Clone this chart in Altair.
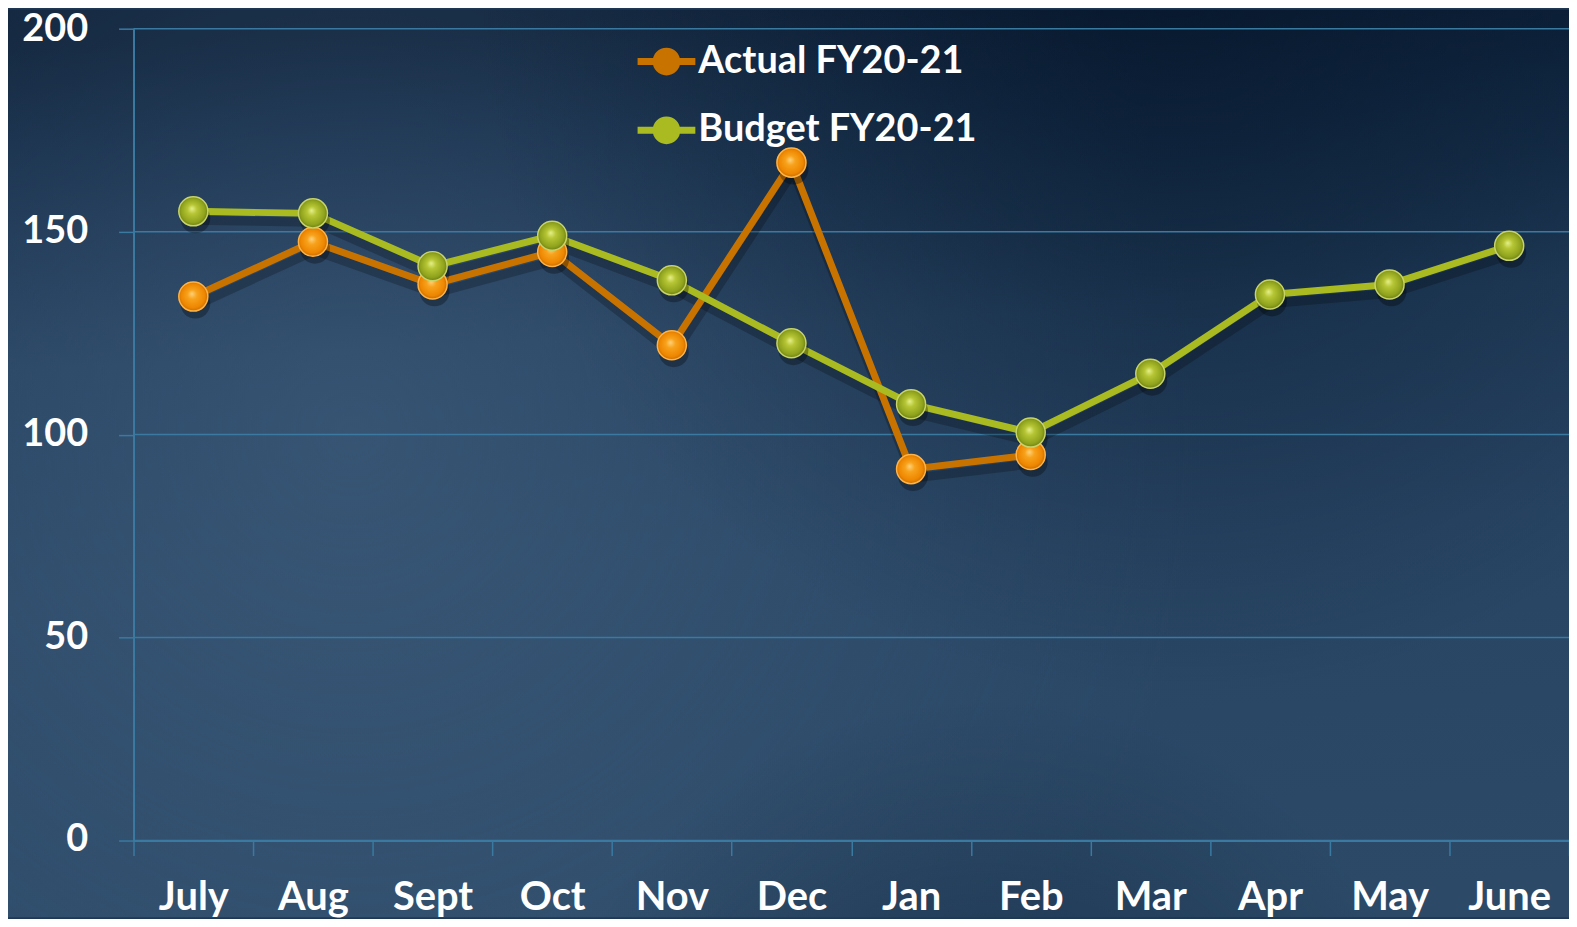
import altair as alt
import pandas as pd

# ---- data ----
months = ["July", "Aug", "Sept", "Oct", "Nov", "Dec", "Jan", "Feb", "Mar", "Apr", "May", "June"]
actual = [134, 147.5, 137, 145, 122, 167, 91.5, 95]
budget = [155, 154.5, 141.5, 149, 138, 122.5, 107.5, 100.5, 115, 134.5, 137, 146.5]
series_names = ["Actual FY20-21", "Budget FY20-21"]
y_ticks = [0, 50, 100, 150, 200]

rows = []
for m, v in zip(months, actual):
    rows.append({"Month": m, "Series": series_names[0], "Value": v})
for m, v in zip(months, budget):
    rows.append({"Month": m, "Series": series_names[1], "Value": v})
df = pd.DataFrame(rows)
grid_df = pd.DataFrame({"Value": y_ticks})

# ---- layout ----
W, H = 1441, 815
PL, PT, PR, PB = 126, 19, 0, 77

LINE_ORANGE = "#c87300"
LINE_GREEN = "#a9bb20"
GRID = "#3a7aa1"
FONT = "Lato"

x_enc = alt.X(
    "Month:N",
    sort=months,
    scale=alt.Scale(type="band", paddingInner=0, paddingOuter=0),
    axis=alt.Axis(title=None, tickBand="extent", labelPadding=22, labelAngle=0, zindex=1,
                  labelFontSize=40),
)
y_axis = alt.Axis(title=None, values=y_ticks, labelPadding=31, domain=True, zindex=1, grid=False,
                  labelFontSize=38, labelFlush=True, labelFlushOffset=18)
y_enc = alt.Y("Value:Q", scale=alt.Scale(domain=[0, 200], nice=False, zero=True), axis=y_axis)

color_enc = alt.Color(
    "Series:N",
    scale=alt.Scale(domain=series_names, range=[LINE_ORANGE, LINE_GREEN]),
    legend=alt.Legend(
        title=None,
        orient="none",
        legendX=506,
        legendY=4,
        symbolType="M-1,-0.12L1,-0.12L1,0.12L-1,0.12Z M0.48,0A0.48,0.48,0,1,1,-0.48,0A0.48,0.48,0,1,1,0.48,0Z",
        symbolSize=3364,
        symbolStrokeWidth=0,
        symbolOpacity=1,
        labelFont=FONT,
        labelFontWeight="bold",
        labelFontSize=38,
        labelColor="white",
        labelOffset=3,
        rowPadding=21,
        labelLimit=600,
    ),
)

bg_base = alt.LinearGradient(
    gradient="linear",
    x1=0.45, y1=0, x2=0.55, y2=1,
    stops=[
        alt.GradientStop(offset=0, color="#0a1c33"),
        alt.GradientStop(offset=0.12, color="#112843"),
        alt.GradientStop(offset=0.35, color="#223e5c"),
        alt.GradientStop(offset=0.6, color="#284564"),
        alt.GradientStop(offset=1, color="#2c4a68"),
    ],
)
bg_light = alt.RadialGradient(
    gradient="radial",
    x1=0.22, y1=0.48, r1=0.0,
    x2=0.22, y2=0.48, r2=0.55,
    stops=[
        alt.GradientStop(offset=0, color="rgba(78,108,140,0.45)"),
        alt.GradientStop(offset=1, color="rgba(78,108,140,0)"),
    ],
)
bg_dark = alt.RadialGradient(
    gradient="radial",
    x1=0.75, y1=0.2, r1=0.0,
    x2=0.75, y2=0.2, r2=0.45,
    stops=[
        alt.GradientStop(offset=0, color="rgba(6,22,42,0.6)"),
        alt.GradientStop(offset=1, color="rgba(6,22,42,0)"),
    ],
)
bg_dark_bottom = alt.RadialGradient(
    gradient="radial",
    x1=0.63, y1=0.95, r1=0.0,
    x2=0.63, y2=0.95, r2=0.3,
    stops=[
        alt.GradientStop(offset=0, color="rgba(8,26,48,0.55)"),
        alt.GradientStop(offset=1, color="rgba(8,26,48,0)"),
    ],
)

bg_data = alt.Data(values=[{"a": 1}])
bg_pos = dict(x=alt.value(-PL), x2=alt.value(W + PR), y=alt.value(-PT), y2=alt.value(H + PB))
background = alt.Chart(bg_data).mark_rect(fill=bg_base).encode(**bg_pos)
background_light = alt.Chart(bg_data).mark_rect(fill=bg_light).encode(**bg_pos)
background_dark = alt.Chart(bg_data).mark_rect(fill=bg_dark).encode(**bg_pos)
background_dark2 = alt.Chart(bg_data).mark_rect(fill=bg_dark_bottom).encode(**bg_pos)

grid = alt.Chart(grid_df).mark_rule(color=GRID, strokeWidth=1.5).encode(
    y=alt.Y("Value:Q", scale=alt.Scale(domain=[0, 200], nice=False), axis=y_axis)
)

line_shadow = alt.Chart(df).mark_line(
    color="black", strokeWidth=9, opacity=0.22, yOffset=9, xOffset=2
).encode(x=x_enc, y=y_enc, detail="Series:N")

legend_points = alt.Chart(df).mark_circle(size=700, opacity=1).encode(
    x=x_enc, y=y_enc, color=color_enc
)

lines = alt.Chart(df).mark_line(strokeWidth=7, strokeJoin="round").encode(
    x=x_enc, y=y_enc, color=color_enc
)

ball_shadow = alt.Chart(df).mark_circle(
    size=900, color="black", opacity=0.3, yOffset=7, xOffset=2
).encode(x=x_enc, y=y_enc)


def ball(series, stops, edge):
    grad = alt.RadialGradient(
        gradient="radial",
        x1=0.45, y1=0.4, r1=0.0,
        x2=0.5, y2=0.5, r2=0.55,
        stops=[alt.GradientStop(offset=o, color=c) for o, c in stops],
    )
    return (
        alt.Chart(df)
        .transform_filter(alt.datum.Series == series)
        .mark_circle(size=850, fill=grad, opacity=1, stroke=edge, strokeWidth=1.5)
        .encode(x=x_enc, y=y_enc)
    )


ball_actual = ball(
    series_names[0],
    [(0, "#ffd27a"), (0.3, "#f7a21c"), (0.75, "#ee8600"), (1, "#b56100")],
    "#ffb347",
)
ball_budget = ball(
    series_names[1],
    [(0, "#e6f08a"), (0.3, "#b5c534"), (0.75, "#8fa21c"), (1, "#5f6e0e")],
    "#c7d46a",
)

chart = (
    alt.layer(background, background_light, background_dark, background_dark2, grid, line_shadow,
              legend_points, lines, ball_shadow, ball_actual, ball_budget)
    .properties(
        width=W,
        height=H,
        padding={"left": PL, "top": PT, "right": PR, "bottom": PB},
        autosize=alt.AutoSizeParams(type="none"),
        background="#1e3854",
    )
    .configure_view(stroke=None)
    .configure_axis(
        labelFont=FONT,
        labelFontWeight="bold",
        labelColor="white",
        domainColor=GRID,
        domainWidth=2,
        tickColor=GRID,
        tickWidth=1.5,
        tickSize=15,
        grid=False,
        zindex=1,
    )
)

chart.save("out.html", embed_options={"renderer": "svg", "actions": False})
